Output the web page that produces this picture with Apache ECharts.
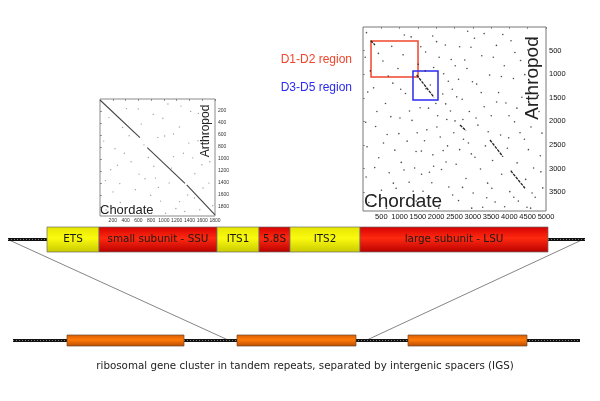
<!DOCTYPE html>
<html><head><meta charset="utf-8">
<script src="https://cdn.jsdelivr.net/npm/echarts@6/dist/echarts.min.js"></script>
<style>html,body{margin:0;padding:0;background:#fff}#c{width:600px;height:401px}</style>
</head><body><div id="c"></div>
<script>
// ---------- data ----------
// SSU dot plot (Chordate x vs Arthropod y), diagonal match segments [x1,y1,x2,y2]
const ssuDiagSegments = [[0,17,625,645],[740,812,1330,1405],[1357,1433,1800,1933]];
const ssuNoise = [[140,310],[235,830],[85,1360],[318,1725],[415,160],[487,1046],[553,1512],[646,418],[702,1887],[757,975],[833,254],[868,1318],[947,1702],[1012,617],[1063,84],[1118,1152],[1187,1826],[1243,466],[1306,903],[1372,1598],[1419,207],[1484,1247],[1533,694],[1612,1483],[1657,351],[1718,1046],[1764,1779],[58,702],[272,1103],[353,476],[612,1252],[688,764],[914,1476],[983,322],[1151,583],[1328,1874],[1451,981],[1562,1846],[1693,561],[204,1548],[518,1803],[793,1604],[1082,1398],[1268,118],[1594,1097],[381,903],[1027,1905],[456,612],[1705,1402],[167,1180],[1390,735],[842,1120],[598,166],[1245,1710],[310,1410],[705,1330],[1540,240],[1150,960],[95,1850],[905,640],[1480,1650]];
// LSU dot plot
const lsuDiagSegments = [[210,290,328,381],[1467,1017,1940,1490],[2650,2077,2814,2198],[3470,2395,3825,2749],[4036,3046,4426,3418]];
const lsuNoise = [[95,120],[60,640],[130,1380],[75,2020],[110,2540],[85,3180],[160,3720],[290,1290],[345,2110],[430,2770],[505,3460],[545,720],[615,1620],[660,2280],[715,3090],[785,410],[815,1190],[870,2610],[905,3420],[955,880],[1010,1930],[1045,2870],[1095,590],[1160,1410],[1205,2420],[1260,3290],[1315,210],[1340,1980],[1410,2990],[1455,3690],[1510,790],[1560,1710],[1595,2630],[1640,3480],[1710,530],[1745,2180],[1815,3080],[1840,1230],[1910,2710],[1960,3620],[2010,310],[2040,1880],[2110,2330],[2145,3020],[2205,990],[2260,1630],[2310,2520],[2345,3390],[2410,690],[2440,1320],[2515,1990],[2545,2910],[2610,3680],[2640,420],[2710,1530],[2745,2380],[2815,3210],[2840,880],[2905,1790],[2960,2690],[3010,3520],[3045,240],[3105,1210],[3140,2080],[3210,3010],[3245,610],[3310,1690],[3345,2520],[3405,3310],[3460,1020],[3505,1880],[3540,2830],[3610,3710],[3645,390],[3705,1390],[3760,2290],[3790,3120],[3860,820],[3905,1610],[3945,2570],[4010,3490],[4045,290],[4110,1090],[4140,2010],[4210,2880],[4245,3690],[4305,710],[4340,1490],[4410,2380],[4445,3230],[4505,490],[4560,1310],[4590,2120],[4660,2990],[4705,3610],[4740,910],[4810,1790],[4845,2730],[4910,3410],[1905,190],[2610,1110],[3310,140],[4205,1720],[1720,1310],[1990,1620],[2180,1420],[2390,1780],[2480,2240],[2730,1960],[2880,2460],[3060,2760],[2270,2860],[1680,2410],[3380,3620],[3870,3810],[4480,3820],[760,3650],[1190,3760],[270,3560],[4680,260],[3820,160],[2860,90],
  [420,560],[690,1040],[1130,170],[1580,420],[2080,640],[2330,1150],[2560,1480],[2290,1960],[2020,2120],[1790,1720],[1480,2240],[1270,1780],[980,2260],[560,2460],[320,2980],[830,3310],[1370,3480],[1880,3300],[2450,3560],[2970,3840],[3520,3420],[4120,3610],[4620,3520],[4860,3070],[4520,2600],[4290,2240],[3990,1880],[3650,1590],[3230,1390],[2990,1160],[2780,700],[3560,640],[4150,540],[4420,1010],[4790,1450],[3090,1930],[2640,2600],[2190,2620],[1930,2950],[1600,3120],[1120,3030],[640,3840],[380,1790],[200,930],[1700,930],[2250,380],[2950,430],[3420,2220],[3980,2350],[4890,2250],[4580,3840],[3270,3820],[2720,3400],[2070,3840],[1450,2640],[760,1900],[1030,1320],[1930,860],[2520,820],[3780,1050]];
const d1d2Region = [219,297,1503,1059];   // x1,y1,x2,y2 in LSU coordinates
const d3d5Region = [1366,932,2049,1547];
// gene cluster schematic (positions along schematic axis)
const geneNames = ['ETS','small subunit - SSU','ITS1','5.8S','ITS2','large subunit - LSU'];
const geneStart = [47,99,217,259,290,360];
const geneEnd   = [99,217,259,290,360,548];
const geneKind  = ['spacer','rRNA','spacer','rRNA','spacer','rRNA'];
const repeatStart = [67,237,408];
const repeatEnd   = [184,356,527];
const unitSpacerTop = [[8,47],[548,585]];
const igsBottom = [[13,580]];
const caption = 'ribosomal gene cluster in tandem repeats, separated by intergenic spacers (IGS)';

// ---------- layout ----------
const ROW_GENE = 239.5, H_GENE = 25;
const ROW_REP = 340.5, H_REP = 11;
const FONT = '"Liberation Sans", Arial, sans-serif';

const grads = {
  rRNA: [[0,'#d40000'],[0.45,'#ff2a10'],[1,'#b80000']],
  spacer: [[0,'#e4e400'],[0.45,'#fbfb10'],[1,'#c9c900']],
  repeat: [[0,'#d85c00'],[0.45,'#ff7a08'],[1,'#b84a00']]
};
function grad(k){ return new echarts.graphic.LinearGradient(0,0,0,1,grads[k].map(s=>({offset:s[0],color:s[1]}))); }

const chart = echarts.init(document.getElementById('c'), null, {renderer:'canvas'});

function segLines(segs){ return segs.map(s=>({coords:[[s[0],s[1]],[s[2],s[3]]]})); }
const plain = v => String(v);

const axBase = (extra)=>Object.assign({
  type:'value', splitLine:{show:false},
  axisLine:{show:false},
  axisTick:{show:true, length:2, lineStyle:{color:'#555', width:0.6}},
}, extra);

const option = {
  animation:false,
  backgroundColor:'#fff',
  grid:[
    {left:100, top:99, width:115, height:117, show:true, borderColor:'#8a8a8a', borderWidth:1, backgroundColor:'#fff'},
    {left:363, top:27, width:183, height:184, show:true, borderColor:'#777', borderWidth:1, backgroundColor:'#fff'},
    {left:0, top:0, width:600, height:401, show:false}
  ],
  xAxis:[
    axBase({gridIndex:0, min:0, max:1800, interval:200, position:'bottom',
      axisLabel:{fontSize:5, color:'#333', margin:2, showMinLabel:false, hideOverlap:false, formatter:plain, fontFamily:FONT}}),
    axBase({gridIndex:1, min:0, max:5000, interval:500, position:'bottom',
      axisLabel:{fontSize:7.5, color:'#111', margin:2, showMinLabel:false, showMaxLabel:true, hideOverlap:false, formatter:plain, fontFamily:FONT}}),
    {gridIndex:2, type:'value', min:0, max:600, show:false}
  ],
  yAxis:[
    axBase({gridIndex:0, min:0, max:1950, interval:200, inverse:true, position:'right',
      axisLabel:{fontSize:5, color:'#333', margin:3, showMinLabel:false, showMaxLabel:false, formatter:plain, fontFamily:FONT}}),
    axBase({gridIndex:1, min:0, max:3900, interval:500, inverse:true, position:'right',
      axisLabel:{fontSize:7.5, color:'#111', margin:3, showMinLabel:false, showMaxLabel:false, formatter:plain, fontFamily:FONT}}),
    {gridIndex:2, type:'value', min:0, max:401, inverse:true, show:false}
  ],
  series:[
    {type:'scatter', xAxisIndex:0, yAxisIndex:0, data:ssuNoise, symbolSize:1.4, itemStyle:{color:'#8a8a8a'}, silent:true},
    {type:'lines', coordinateSystem:'cartesian2d', xAxisIndex:0, yAxisIndex:0, data:segLines(ssuDiagSegments),
      lineStyle:{color:'#444', width:1.1, opacity:1}, silent:true},
    {type:'scatter', xAxisIndex:1, yAxisIndex:1, data:lsuNoise, symbolSize:1.6, itemStyle:{color:'#222'}, silent:true,
      markArea:{silent:true, data:[
        [{coord:[d1d2Region[0],d1d2Region[1]], itemStyle:{color:'rgba(0,0,0,0)', borderColor:'#f0452a', borderWidth:1.5}},{coord:[d1d2Region[2],d1d2Region[3]]}],
        [{coord:[d3d5Region[0],d3d5Region[1]], itemStyle:{color:'rgba(0,0,0,0)', borderColor:'#2a2af0', borderWidth:1.5}},{coord:[d3d5Region[2],d3d5Region[3]]}]
      ]}},
    {type:'lines', coordinateSystem:'cartesian2d', xAxisIndex:1, yAxisIndex:1, data:segLines(lsuDiagSegments),
      lineStyle:{color:'#222', width:1.3, opacity:1, type:[3,1]}, silent:true},
    // connectors between gene unit and repeat
    {type:'lines', coordinateSystem:'cartesian2d', xAxisIndex:2, yAxisIndex:2, silent:true,
      data:[{coords:[[unitSpacerTop[0][0],ROW_GENE],[repeatEnd[0]+43,ROW_REP-1]]},{coords:[[unitSpacerTop[1][1],ROW_GENE-1],[repeatEnd[1]+12,ROW_REP-1]]}],
      lineStyle:{color:'#777', width:0.9, opacity:1}},
    // spacer backbones
    {type:'lines', coordinateSystem:'cartesian2d', xAxisIndex:2, yAxisIndex:2, silent:true,
      data:unitSpacerTop.map(s=>({coords:[[s[0],ROW_GENE],[s[1],ROW_GENE]]})).concat(igsBottom.map(s=>({coords:[[s[0],ROW_REP],[s[1],ROW_REP]]}))),
      lineStyle:{color:'#111', width:3, opacity:1}},
    {type:'lines', coordinateSystem:'cartesian2d', xAxisIndex:2, yAxisIndex:2, silent:true,
      data:unitSpacerTop.map(s=>({coords:[[s[0],ROW_GENE],[s[1],ROW_GENE]]})).concat(igsBottom.map(s=>({coords:[[s[0],ROW_REP],[s[1],ROW_REP]]}))),
      lineStyle:{color:'#9a9a9a', width:0.8, opacity:1, type:[1,2]}, z:3},
    // gene unit
    {type:'custom', xAxisIndex:2, yAxisIndex:2, silent:true, z:4,
      data:geneNames.map((n,i)=>[geneStart[i],geneEnd[i],i]),
      renderItem:(params,api)=>{
        const i=api.value(2);
        const p1=api.coord([api.value(0), ROW_GENE-H_GENE/2]);
        const p2=api.coord([api.value(1), ROW_GENE+H_GENE/2]);
        return {type:'group', children:[
          {type:'rect', shape:{x:p1[0],y:p1[1],width:p2[0]-p1[0],height:p2[1]-p1[1]},
            style:{fill:grad(geneKind[i]), stroke:'#6a6a6a', lineWidth:0.7}},
          {type:'text', style:{text:geneNames[i], x:(p1[0]+p2[0])/2, y:(p1[1]+p2[1])/2,
            align:'center', verticalAlign:'middle', textAlign:'center', textVerticalAlign:'middle',
            font:'10.4px "DejaVu Sans", sans-serif', fill:'#1a1a1a'}}
        ]};
      }},
    // tandem repeats
    {type:'custom', xAxisIndex:2, yAxisIndex:2, silent:true, z:4,
      data:repeatStart.map((s,i)=>[s,repeatEnd[i]]),
      renderItem:(params,api)=>{
        const p1=api.coord([api.value(0), ROW_REP-H_REP/2]);
        const p2=api.coord([api.value(1), ROW_REP+H_REP/2]);
        return {type:'rect', shape:{x:p1[0],y:p1[1],width:p2[0]-p1[0],height:p2[1]-p1[1]},
          style:{fill:grad('repeat'), stroke:'#6a4a30', lineWidth:0.7}};
      }}
  ],
  graphic:[
    {type:'text', x:352, y:60, style:{text:'D1-D2 region', fill:'#f0452a', font:'12px '+FONT, align:'right', verticalAlign:'middle', textAlign:'right', textVerticalAlign:'middle'}},
    {type:'text', x:352, y:88, style:{text:'D3-D5 region', fill:'#2a2af0', font:'12px '+FONT, align:'right', verticalAlign:'middle', textAlign:'right', textVerticalAlign:'middle'}},
    {type:'text', x:364, y:202, z:10, style:{text:'Chordate', fill:'#222', font:'19px '+FONT, align:'left', verticalAlign:'middle', textAlign:'left', textVerticalAlign:'middle'}},
    {type:'text', x:533, y:78, rotation:Math.PI/2, z:10, style:{text:'Arthropod', fill:'#222', font:'19px '+FONT, align:'center', verticalAlign:'middle', textAlign:'center', textVerticalAlign:'middle'}},
    {type:'text', x:100, y:210, z:10, style:{text:'Chordate', fill:'#222', font:'13px '+FONT, align:'left', verticalAlign:'middle', textAlign:'left', textVerticalAlign:'middle'}},
    {type:'text', x:206, y:131, rotation:Math.PI/2, z:10, style:{text:'Arthropod', fill:'#222', font:'12px '+FONT, align:'center', verticalAlign:'middle', textAlign:'center', textVerticalAlign:'middle'}},
    {type:'text', x:305, y:366, style:{text:caption, fill:'#222', font:'10.3px "DejaVu Sans", sans-serif', align:'center', verticalAlign:'middle', textAlign:'center', textVerticalAlign:'middle'}}
  ]
};
chart.setOption(option);
</script>
</body></html>
